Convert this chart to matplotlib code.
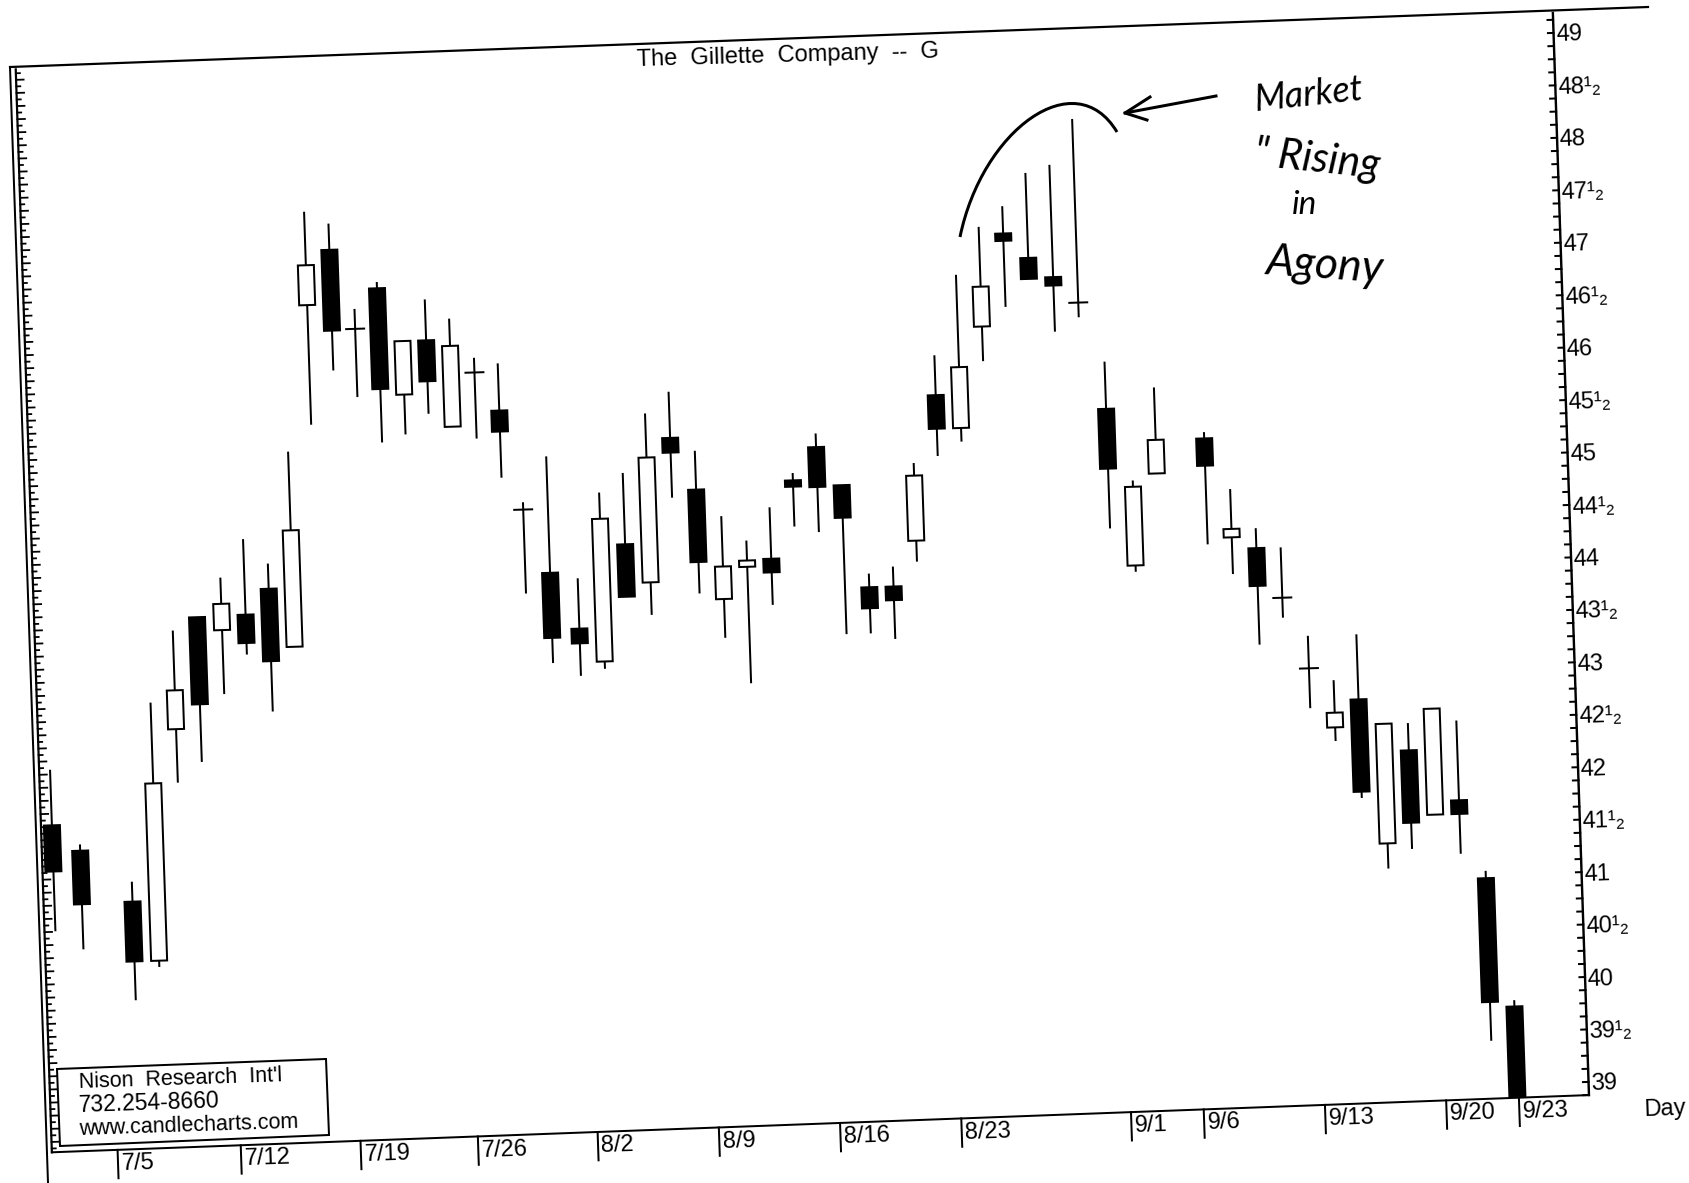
"""The Gillette Company candle chart, redrawn as a slightly skewed scan."""

import matplotlib

matplotlib.use("Agg")
import matplotlib.pyplot as plt
import numpy as np
from matplotlib.patches import PathPatch, Polygon, Rectangle
from matplotlib.path import Path
from matplotlib.transforms import Affine2D

# ── data ────────────────────────────────────────────────────────────
days = [0, 1, 3, 4, 5, 6, 7, 8, 9, 10, 11, 12, 13, 14, 15, 16, 17, 18, 19, 20,
        21, 22, 23, 24, 25, 26, 27, 28, 29, 30, 31, 32, 33, 34, 35, 36, 37, 38, 39, 40,
        41, 42, 43, 44, 45, 46, 48, 49, 50, 51, 52, 53, 54, 55, 56, 57, 58, 59, 60]
highs = [42.42, 41.70, 41.33, 43.03, 43.71, 43.83, 44.20, 44.56, 44.32, 45.38,
         47.66, 47.54, 46.72, 46.97, 46.40, 46.79, 46.60, 46.22, 46.16, 44.83,
         45.26, 44.09, 44.90, 45.08, 45.64, 45.84, 45.27, 44.64, 44.40, 44.71,
         45.03, 45.40, 44.90, 44.05, 44.11, 45.09, 46.11, 46.87, 47.32, 47.51,
         47.82, 47.89, 48.32, 46.00, 44.86, 45.74, 45.30, 44.75, 44.37, 44.18,
         43.33, 42.90, 43.33, 42.47, 42.47, 42.60, 42.48, 41.04, 39.80]
lows = [40.88, 40.70, 40.20, 40.51, 42.26, 42.45, 43.09, 43.46, 42.91, 43.52,
        45.63, 46.14, 45.88, 45.44, 45.51, 45.70, 45.57, 45.45, 45.07, 43.96,
        43.29, 43.16, 43.22, 43.90, 43.72, 44.83, 43.91, 43.48, 43.04, 43.78,
        44.52, 44.46, 43.48, 43.48, 43.42, 44.15, 45.15, 45.28, 46.04, 46.55,
        46.81, 46.30, 46.43, 44.41, 43.99, 44.92, 44.23, 43.94, 43.26, 43.51,
        42.64, 42.32, 41.77, 41.09, 41.27, 41.59, 41.21, 39.42, 38.88]
opens = [41.89, 41.64, 41.14, 40.57, 42.77, 43.83, 43.70, 43.84, 44.08, 43.52,
         46.77, 47.29, 46.53, 46.91, 45.89, 46.40, 45.57, 46.08, 45.71, 44.76,
         44.15, 43.61, 43.29, 44.40, 44.03, 45.40, 44.90, 43.85, 44.15, 44.22,
         44.96, 45.27, 44.90, 43.92, 43.92, 44.35, 45.73, 45.41, 46.37, 47.25,
         47.01, 46.82, 46.57, 45.55, 44.05, 44.92, 45.24, 44.29, 44.18, 43.70,
         43.02, 42.45, 42.71, 41.33, 42.21, 41.59, 41.72, 40.97, 39.74]
closes = [41.45, 41.13, 40.57, 42.26, 43.14, 43.00, 43.95, 43.57, 43.39, 44.63,
          47.15, 46.52, 46.53, 45.95, 46.40, 46.01, 46.34, 46.08, 45.51, 44.76,
          43.53, 43.47, 44.65, 43.90, 45.22, 45.26, 44.21, 44.16, 44.21, 44.09,
          44.90, 44.89, 44.59, 43.72, 43.79, 44.97, 45.41, 45.99, 46.75, 47.18,
          46.81, 46.74, 46.57, 44.98, 44.80, 45.24, 44.98, 44.37, 43.82, 43.70,
          43.02, 42.59, 41.83, 42.47, 41.52, 42.60, 41.59, 39.79, 38.88]

date_days = [2, 7, 12, 17, 22, 27, 32, 37, 44, 47, 52, 57, 60]
date_labels = ["7/5", "7/12", "7/19", "7/26", "8/2", "8/9", "8/16", "8/23",
               "9/1", "9/6", "9/13", "9/20", "9/23"]
price_ticks = [49, 48.5, 48, 47.5, 47, 46.5, 46, 45.5, 45, 44.5, 44, 43.5, 43,
               42.5, 42, 41.5, 41, 40.5, 40, 39.5, 39]
price_labels = ["49", "48¹₂", "48", "47¹₂", "47", "46¹₂", "46", "45¹₂", "45", "44¹₂",
                "44", "43¹₂", "43", "42¹₂", "42", "41¹₂", "41", "40¹₂", "40", "39¹₂", "39"]

# ── page and skew ───────────────────────────────────────────────────
INK = "#000000"
TILT = 1.9
FONT = ["Liberation Sans", "DejaVu Sans"]
PX = 0.72  # one pixel in points at dpi=100

LEFT_DAY, RIGHT_DAY = -0.45, 62.95
BODY_HALF = 0.33
DOJI_HALF = 0.37

# the scanned page runs a little wider on the left part of the date scale
WARP_DAY = [0, 1, 2, 7, 12, 14, 17, 19, 20, 21, 22, 60]
WARP_SHIFT = [0, 0.13, 0.2, 0.28, 0.22, 0.13, 0.06, 0, -0.15, -0.13, 0, 0]


def warped(d):
    return d + np.interp(d, WARP_DAY, WARP_SHIFT)


def floor_price(d):
    # the bottom rule is not quite parallel to the price lines on the scan
    return 38.777 + 0.00155 * d


fig = plt.figure(figsize=(16.9, 11.83), dpi=100, facecolor="white")
ax = fig.add_axes([0, 0, 1, 1])
ax.set_xlim(0, 1690)
ax.set_ylim(1183, 0)
ax.axis("off")

# (day, price) -> page pixels, the scan is turned about 2 degrees
chart = Affine2D.from_values(24.25, -0.74, -3.5, -104.9, 198.5, 5219.6) + ax.transData

# ── frame ───────────────────────────────────────────────────────────
ax.plot([10, 1648], [67, 7], color=INK, lw=2.2 * PX)
ax.plot([10, 48], [67, 1183], color=INK, lw=2 * PX)
ax.plot([LEFT_DAY, LEFT_DAY], [floor_price(LEFT_DAY), 49.1], color=INK, lw=2.2 * PX, transform=chart)
ax.plot([RIGHT_DAY, RIGHT_DAY], [floor_price(RIGHT_DAY), 49.19], color=INK, lw=2.4 * PX, transform=chart)
ax.plot([LEFT_DAY, RIGHT_DAY], [floor_price(LEFT_DAY), floor_price(RIGHT_DAY)], color=INK,
        lw=2 * PX, transform=chart)

for i, p in enumerate(np.arange(38.8125, 49.1, 0.0625)):
    tick = 0.31 if i % 2 else 0.165
    ax.plot([LEFT_DAY, LEFT_DAY + tick], [p, p], color=INK, lw=1.8 * PX, transform=chart)
for p in np.arange(38.875, 49.15, 0.125):
    ax.plot([RIGHT_DAY - 0.23, RIGHT_DAY], [p, p], color=INK, lw=2 * PX, transform=chart)

for p, lab in zip(price_ticks, price_labels):
    ax.text(RIGHT_DAY + 0.1, p - 0.025, lab, transform=chart, family=FONT, fontsize=17, color=INK,
            ha="left", va="center", rotation=TILT, rotation_mode="anchor")

for d, lab in zip(date_days, date_labels):
    x = warped(d) + 0.06
    base = floor_price(d)
    ax.plot([x, x], [base, base - 0.27], color=INK, lw=2 * PX, transform=chart)
    ax.text(x + 0.13, base - 0.135, lab, transform=chart, family=FONT, fontsize=17,
            color=INK, ha="left", va="center", rotation=TILT, rotation_mode="anchor")

ax.text(1644, 1110, "Day", family=FONT, fontsize=17, color=INK, ha="left", va="center",
        rotation=TILT, rotation_mode="anchor")
ax.text(788, 56, "The  Gillette  Company  --  G", family=FONT, fontsize=17, color=INK,
        ha="center", va="center", rotation=1.6, rotation_mode="anchor")

# ── candles ─────────────────────────────────────────────────────────
for d, hi, lo, op, cl in zip(days, highs, lows, opens, closes):
    x = warped(d)
    ax.plot([x, x], [lo, hi], color=INK, lw=2 * PX, solid_capstyle="butt", transform=chart, zorder=3)
    if op == cl:
        ax.plot([x - DOJI_HALF, x + DOJI_HALF], [op, op], color=INK, lw=2 * PX,
                transform=chart, zorder=4)
    else:
        ax.add_patch(Rectangle((x - BODY_HALF, min(op, cl)), 2 * BODY_HALF, abs(op - cl),
                               facecolor="white" if cl > op else INK, edgecolor=INK,
                               lw=2 * PX, transform=chart, zorder=4))

# ── vendor box ──────────────────────────────────────────────────────
ax.add_patch(Polygon([(57, 1069), (326, 1059), (329, 1135), (60, 1146)], closed=True,
                     facecolor="white", edgecolor=INK, lw=2 * PX, zorder=5))
for y, txt, size in zip([1083, 1106, 1130],
                        ["Nison  Research  Int'l", "732.254-8660", "www.candlecharts.com"],
                        [15.5, 16.5, 15.5]):
    ax.text(79, y, txt, family=FONT, fontsize=size, color=INK, ha="left", va="center",
            rotation=1.9, rotation_mode="anchor", zorder=6)

# ── handwritten note ────────────────────────────────────────────────
arc = Path([(960, 237), (982, 130), (1075, 62), (1117, 132)],
           [Path.MOVETO, Path.CURVE4, Path.CURVE4, Path.CURVE4])
ax.add_patch(PathPatch(arc, facecolor="none", edgecolor=INK, lw=3 * PX, zorder=6))
ax.plot([1216, 1125], [96, 113], color=INK, lw=3 * PX)
ax.plot([1150, 1125, 1147], [97, 113, 120], color=INK, lw=3 * PX)

for x, y, txt, rot, size in [(1308, 95, "Market", 6, 26), (1317, 160, "\" Rising", -6, 30),
                             (1305, 205, "in", 0, 24), (1325, 266, "Agony", -4, 32)]:
    ax.text(x, y, txt, family="Lato", style="italic", fontsize=size, color=INK, ha="center",
            va="center", rotation=rot, rotation_mode="anchor")

fig.savefig("out.png", dpi=100)
